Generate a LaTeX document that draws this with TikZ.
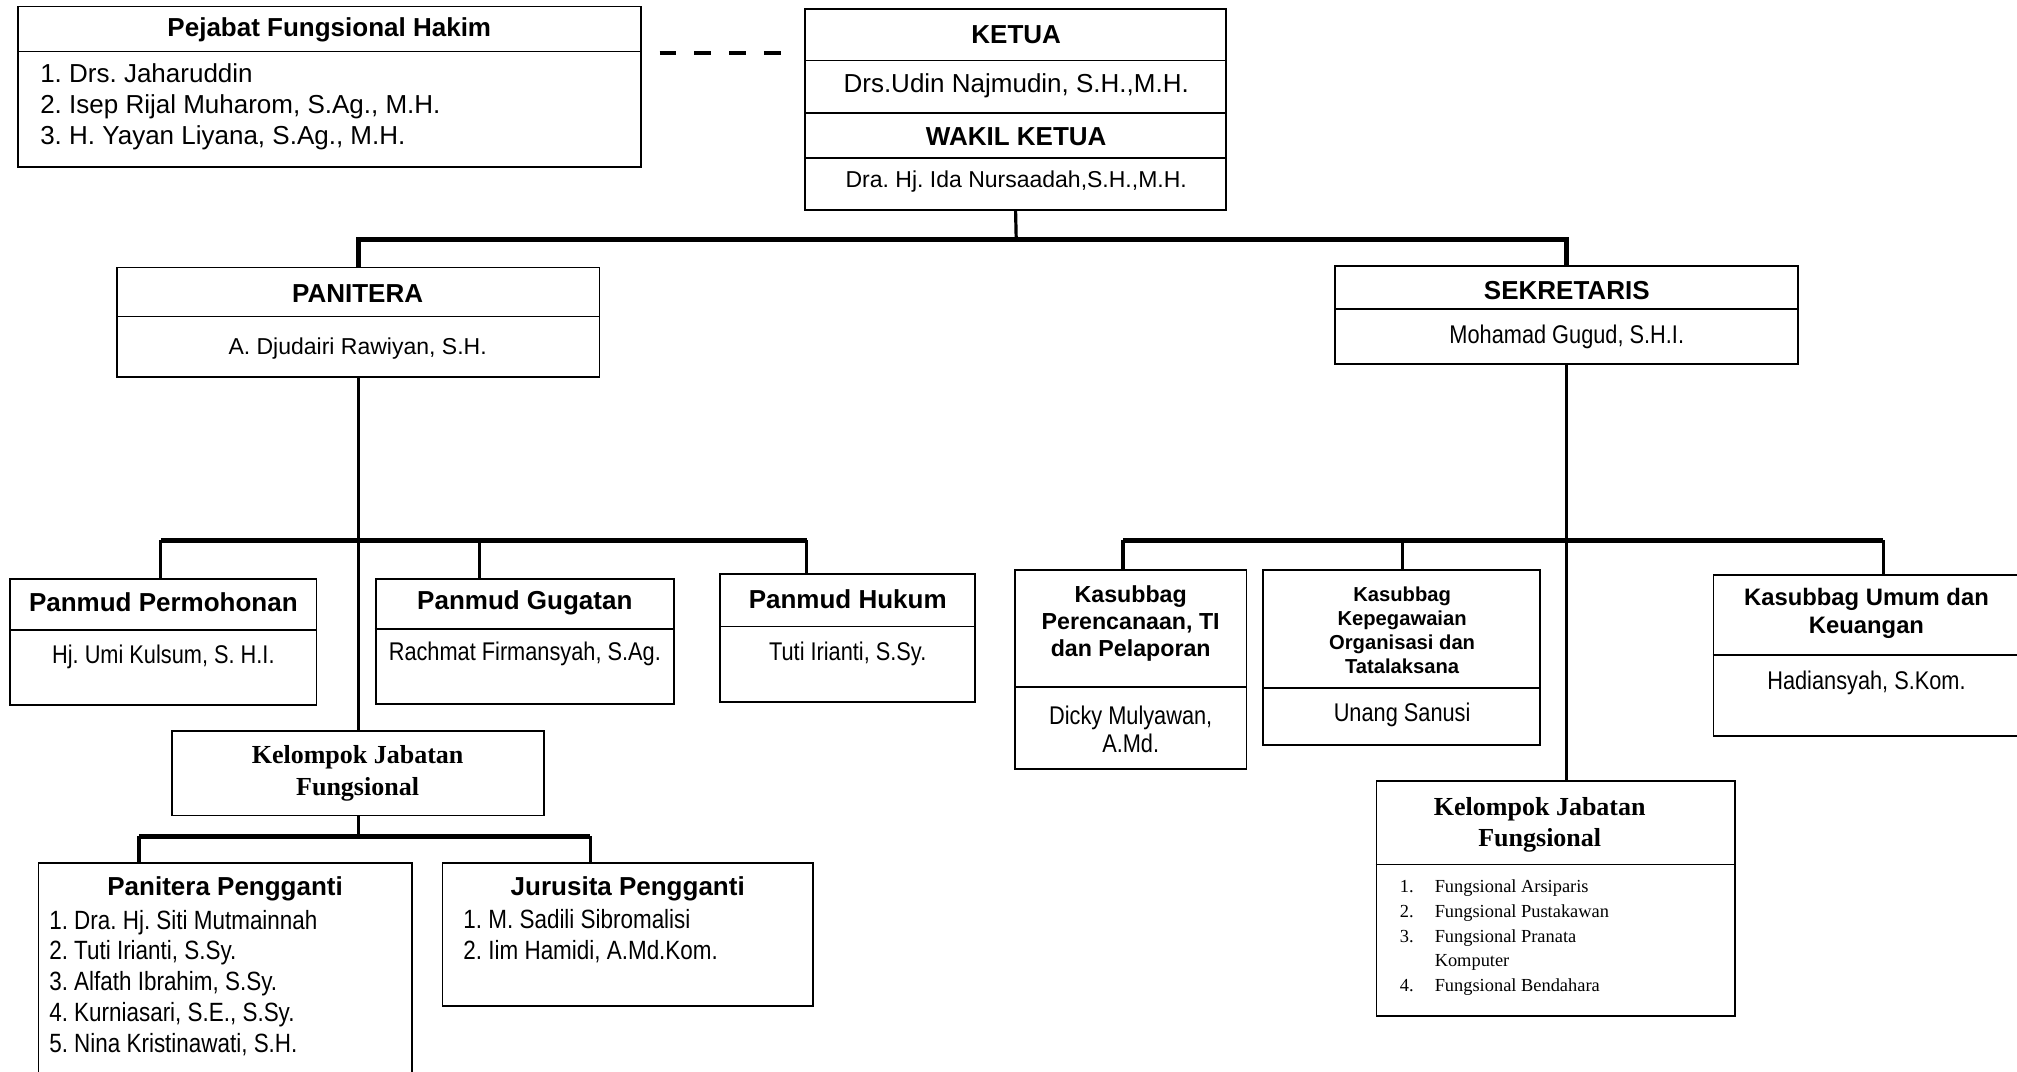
\documentclass[tikz,border=0pt]{standalone}
\usepackage{fontspec}
\setmainfont{Liberation Sans}
\newfontfamily\narrowf{Liberation Sans}[FakeStretch=0.85]
\newfontfamily\timesf{Liberation Serif}
\usetikzlibrary{fit}
\frenchspacing
\tikzset{
  box/.style={draw, line width=0.9pt, inner sep=0pt},
  divl/.style={line width=0.9pt},
  conn/.style={line width=1.6pt},
  barl/.style={line width=2.4pt},
  ttl/.style={font=\bfseries\fontsize{13}{15.4}\selectfont, inner sep=0pt, align=center},
  nm/.style={font=\fontsize{13}{15.4}\selectfont, inner sep=0pt, align=center},
  nmsmall/.style={font=\fontsize{11.5}{14}\selectfont, inner sep=0pt, align=center},
  nmnar/.style={font=\narrowf\fontsize{12.8}{14}\selectfont, inner sep=0pt, align=center},
  lst/.style={font=\narrowf\fontsize{13.2}{15.4}\selectfont, inner sep=0pt, align=left, anchor=west},
  tms/.style={font=\timesf\bfseries\fontsize{13}{16}\selectfont, inner sep=0pt, align=center},
}
\begin{document}
\begin{tikzpicture}[x=0.6432pt, y=-0.6432pt]
\clip (0,0) rectangle (1568,833);
\fill[white] (0,0) rectangle (1568,833);
\frenchspacing

% Pejabat Fungsional Hakim
\node[box, fit={(14,5) (498,130)}] (pej) {};
\draw[divl] (pej.west |- 0,40) -- (pej.east |- 0,40);
\node[ttl] (pejT) at (256,23) {Pejabat Fungsional Hakim};
\node[anchor=west, align=left, font=\fontsize{13}{15.4}\selectfont, inner sep=0pt] (pejL) at (31,83)
  {1. Drs. Jaharuddin\\2. Isep Rijal Muharom, S.Ag., M.H.\\3. H. Yayan Liyana, S.Ag., M.H.};

% Ketua
\node[box, fit={(626,7) (953,163)}] (ketua) {};
\draw[divl] (ketua.west |- 0,47) -- (ketua.east |- 0,47);
\draw[divl] (ketua.west |- 0,88) -- (ketua.east |- 0,88);
\draw[divl] (ketua.west |- 0,123) -- (ketua.east |- 0,123);
\node[ttl] (ketT) at (790,27) {KETUA};
\node[nm] (ketN) at (790,67) {Drs.Udin Najmudin, S.H.,M.H.};
\node[ttl] (wakT) at (790,106) {WAKIL KETUA};
\node[nmsmall] (wakN) at (790,141) {Dra. Hj. Ida Nursaadah,S.H.,M.H.};

% dashed link
\coordinate (dashend) at (608,41);
\draw[line width=2pt, dash pattern=on 8.4pt off 9pt, dash phase=8.4pt] (pej.east |- dashend) -- (dashend);

% Panitera
\node[box, fit={(91,208) (466,293)}] (pan) {};
\draw[divl] (pan.west |- 0,246) -- (pan.east |- 0,246);
\node[ttl] (panT) at (278,228) {PANITERA};
\node[nmsmall] (panN) at (278,271) {A. Djudairi Rawiyan, S.H.};

% Sekretaris
\node[box, fit={(1038,207) (1398,283)}] (sek) {};
\draw[divl] (sek.west |- 0,240) -- (sek.east |- 0,240);
\node[ttl] (sekT) at (1218,226) {SEKRETARIS};
\node[nmnar] (sekN) at (1218,262) {Mohamad Gugud, S.H.I.};

% top connectors
\coordinate (topbar) at (790,186);
\draw[conn] (ketua.south) -- (topbar);
\draw[barl] (pan.north) |- (topbar) -| (sek.north);

% Panmud boxes
\node[box, fit={(8,450) (246,548)}] (pm) {};
\draw[divl] (pm.west |- 0,490) -- (pm.east |- 0,490);
\node[ttl] (pmT) at (127,468) {Panmud Permohonan};
\node[nmnar] (pmN) at (127,511) {Hj. Umi Kulsum, S. H.I.};

\node[box, fit={(292,450) (524,547)}] (pg) {};
\draw[divl] (pg.west |- 0,489) -- (pg.east |- 0,489);
\node[ttl] (pgT) at (408,469) {Panmud Gugatan};
\node[nmnar] (pgN) at (408,508) {Rachmat Firmansyah, S.Ag.};

\node[box, fit={(560,446) (758,546)}] (ph) {};
\draw[divl] (ph.west |- 0,487) -- (ph.east |- 0,487);
\node[ttl] (phT) at (659,466) {Panmud Hukum};
\node[nmnar] (phN) at (659,508) {Tuti Irianti, S.Sy.};

% Kelompok left
\node[box, fit={(134,568) (423,634)}] (kl) {};
\node[tms] (klT) at (278,601) {Kelompok Jabatan\\Fungsional};

% left connectors
\draw[conn] (pan.south) -- (pan.south |- kl.north);
\coordinate (pbA) at (125,420);
\coordinate (pbB) at (373,420);
\coordinate (pbC) at (627,420);
\draw[barl] (pbA) -- (pbC);
\draw[conn] (pbA) -- (pbA |- pm.north);
\draw[conn] (pbB) -- (pbB |- pg.north);
\draw[conn] (pbC) -- (pbC |- ph.north);

% Panitera Pengganti / Jurusita
\node[box, fit={(30,671) (320,845)}] (pp) {};
\node[ttl] (ppT) at (175,691) {Panitera Pengganti};
\node[lst] (ppL) at (38,764) {1. Dra. Hj. Siti Mutmainnah\\2. Tuti Irianti, S.Sy.\\3. Alfath Ibrahim, S.Sy.\\4. Kurniasari, S.E., S.Sy.\\5. Nina Kristinawati, S.H.};

\node[box, fit={(344,671) (632,782)}] (jp) {};
\node[ttl] (jpT) at (488,691) {Jurusita Pengganti};
\node[lst] (jpL) at (360,728) {1. M. Sadili Sibromalisi\\2. Iim Hamidi, A.Md.Kom.};

\coordinate (kbA) at (108,650);
\coordinate (kbB) at (459,650);
\draw[conn] (kl.south) -- (kl.south |- kbA);
\draw[barl] (kbA) -- (kbB);
\draw[conn] (kbA) -- (kbA |- pp.north);
\draw[conn] (kbB) -- (kbB |- jp.north);

% Kasubbag boxes
\node[box, fit={(789,443) (969,598)}] (kp) {};
\draw[divl] (kp.west |- 0,534) -- (kp.east |- 0,534);
\node[font=\bfseries\fontsize{11.6}{13.5}\selectfont, inner sep=0pt, align=center] (kpT) at (879,485) {Kasubbag\\Perencanaan, TI\\dan Pelaporan};
\node[nmnar] (kpN) at (879,567) {Dicky Mulyawan,\\A.Md.};

\node[box, fit={(982,443) (1197,579)}] (kk) {};
\draw[divl] (kk.west |- 0,535) -- (kk.east |- 0,535);
\node[font=\bfseries\fontsize{10.1}{12}\selectfont, inner sep=0pt, align=center] (kkT) at (1090,490) {Kasubbag\\Kepegawaian\\Organisasi dan\\Tatalaksana};
\node[nmnar] (kkN) at (1090,556) {Unang Sanusi};

\node[box, fit={(1332,447) (1580,572)}] (ku) {};
\draw[divl] (ku.west |- 0,509) -- (ku.east |- 0,509);
\node[font=\bfseries\fontsize{11.9}{14}\selectfont, inner sep=0pt, align=center] (kuT) at (1451,477) {Kasubbag Umum dan\\Keuangan};
\node[nmnar] (kuN) at (1451,531) {Hadiansyah, S.Kom.};

% Kelompok right
\node[box, fit={(1070,607) (1349,790)}] (kr) {};
\draw[divl] (kr.west |- 0,672) -- (kr.east |- 0,672);
\node[tms, font=\timesf\bfseries\fontsize{13}{15.4}\selectfont] (krT) at (1197,641) {Kelompok Jabatan\\Fungsional};
\node[anchor=west, align=left, inner sep=0pt, font=\timesf\fontsize{9.2}{12.4}\selectfont] (krL) at (1088,729)
  {\makebox[17.4pt][l]{1.}Fungsional Arsiparis\\
   \makebox[17.4pt][l]{2.}Fungsional Pustakawan\\
   \makebox[17.4pt][l]{3.}Fungsional Pranata\\
   \hspace*{17.4pt}Komputer\\
   \makebox[17.4pt][l]{4.}Fungsional Bendahara};

% right connectors
\draw[conn] (sek.south) -- (sek.south |- kr.north);
\coordinate (sbA) at (873,420);
\coordinate (sbB) at (1090,420);
\coordinate (sbC) at (1464,420);
\draw[barl] (sbA) -- (sbC);
\draw[conn] (sbA) -- (sbA |- kp.north);
\draw[conn] (sbB) -- (sbB |- kk.north);
\draw[conn] (sbC) -- (sbC |- ku.north);
\end{tikzpicture}
\end{document}
